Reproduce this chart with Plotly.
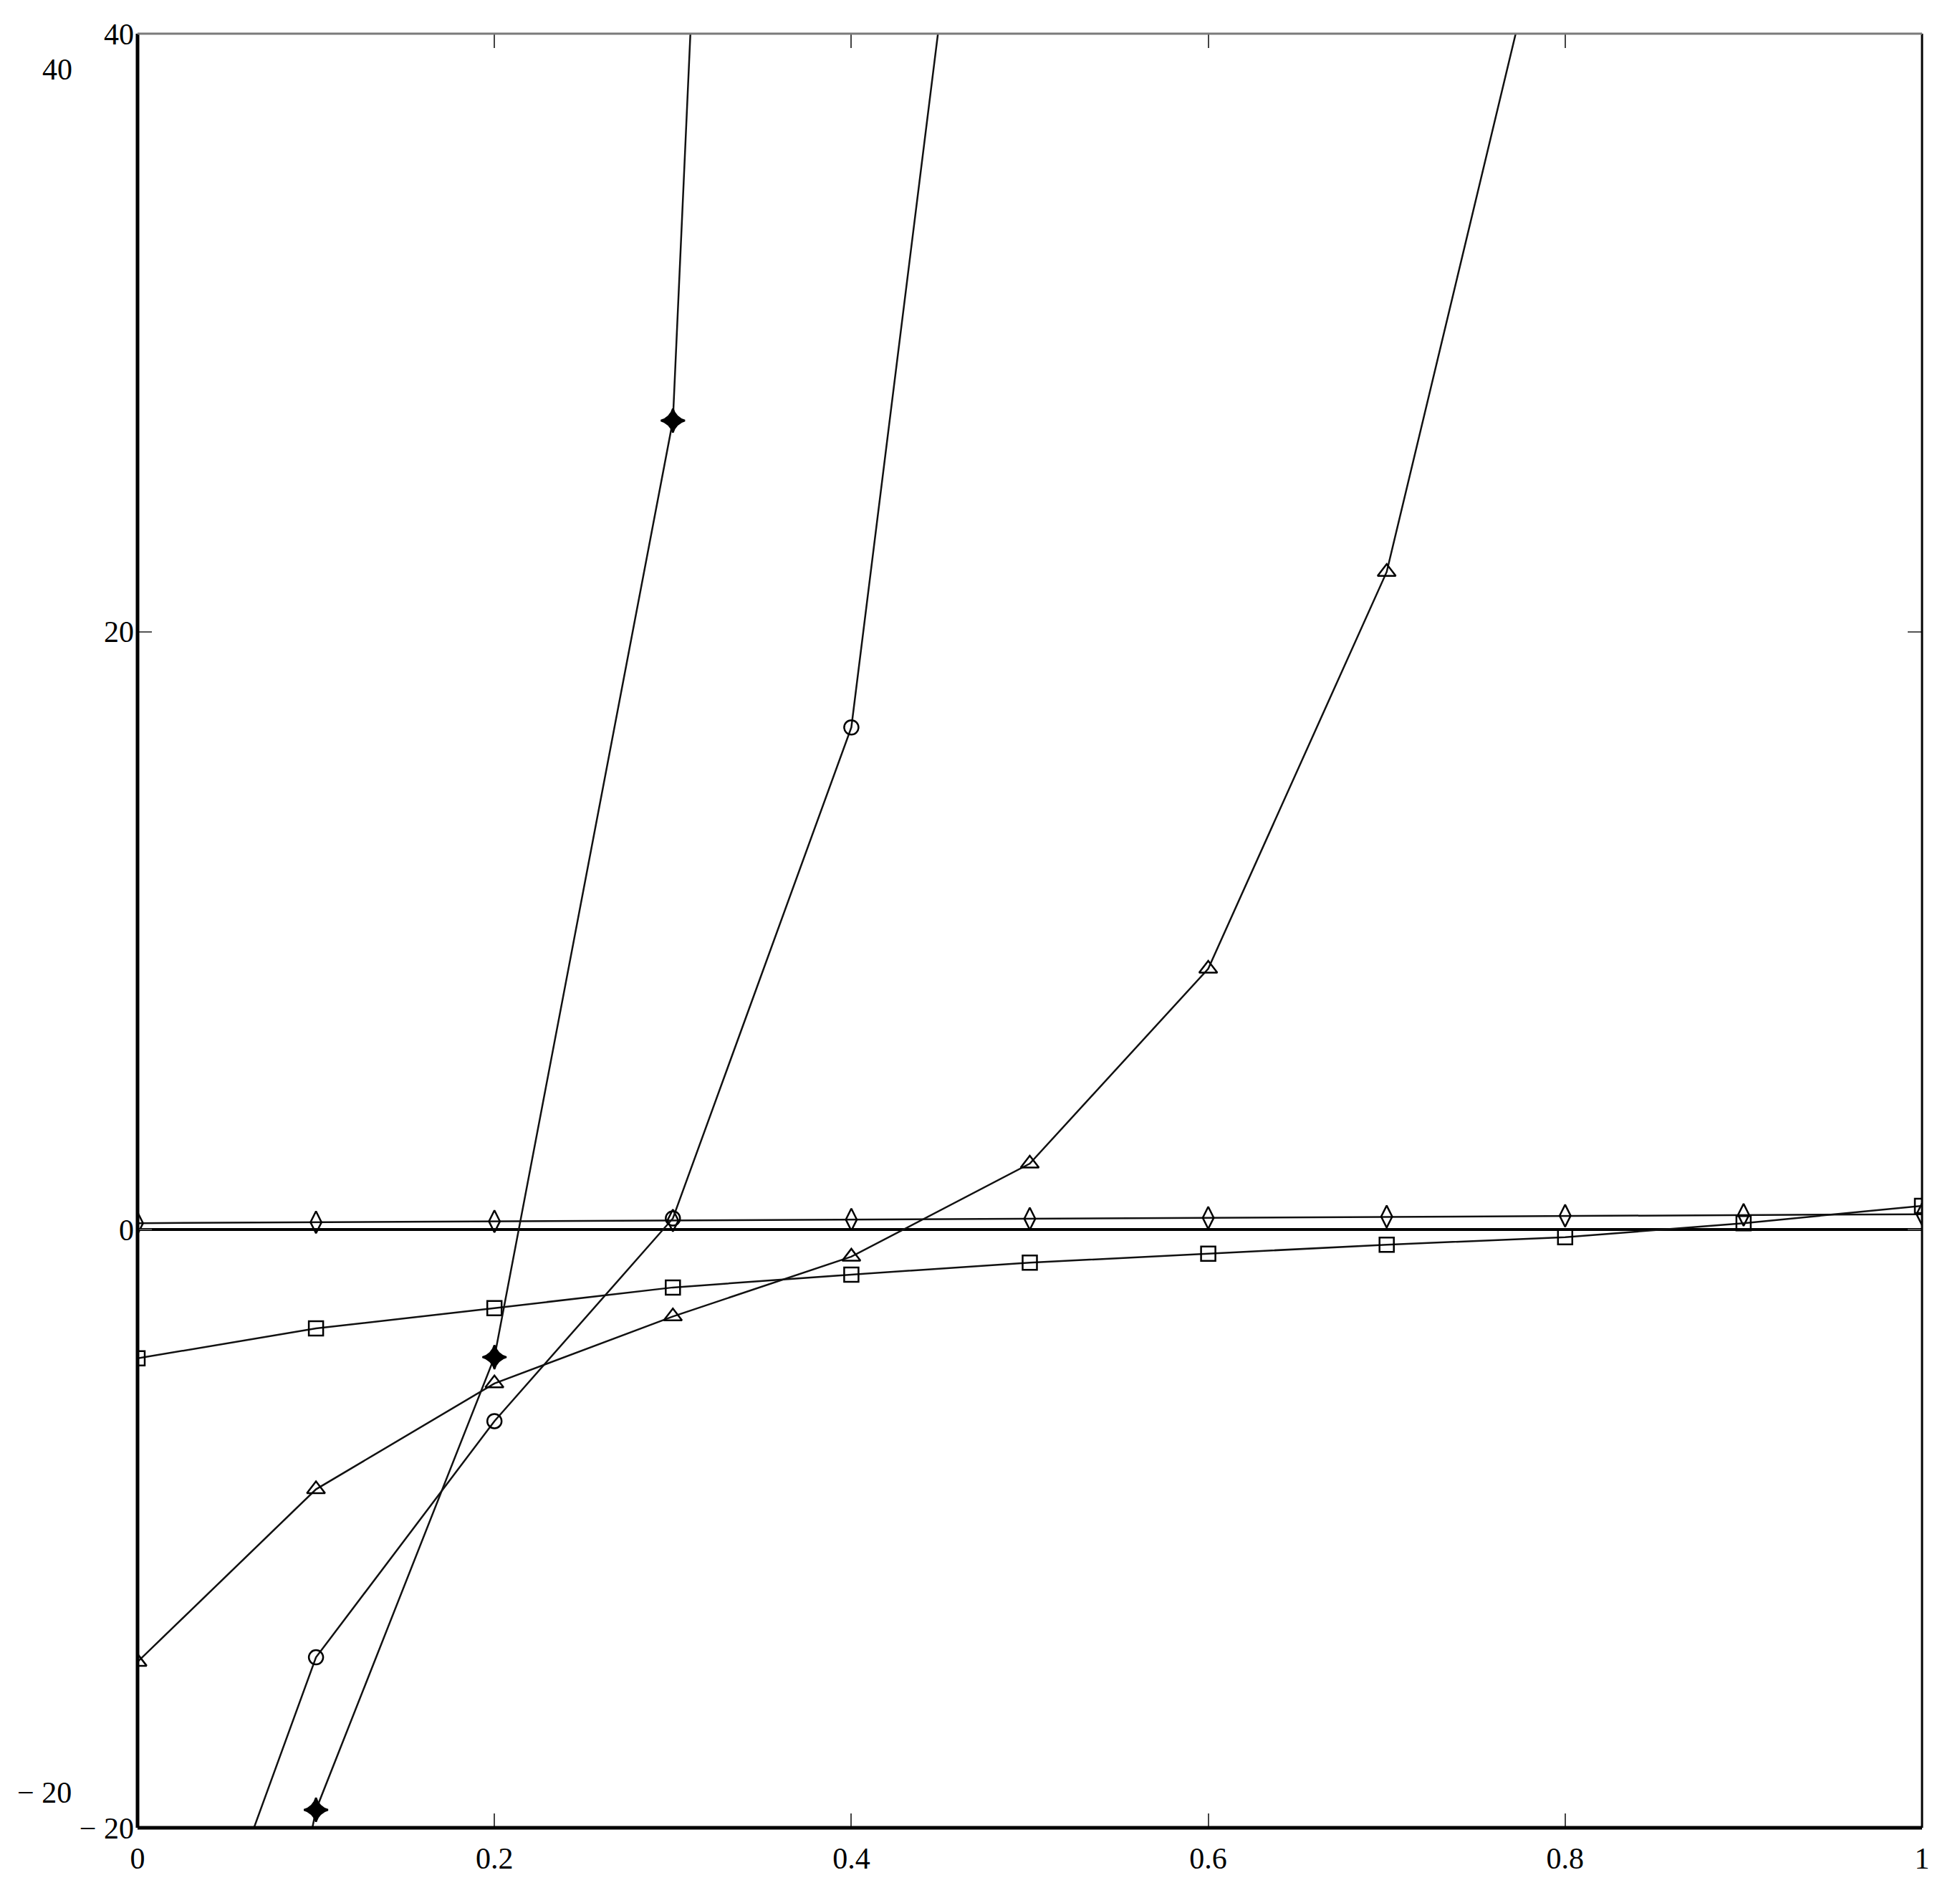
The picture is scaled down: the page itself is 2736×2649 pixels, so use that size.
import plotly.graph_objects as go

# Values, one per marker at x = 0, 0.1, ... 1 ---
x_values = [0.0, 0.1, 0.2, 0.3, 0.4, 0.5, 0.6, 0.7, 0.8, 0.9, 1.0]
filled_values = [-49.0, -19.4, -4.26, 27.06, 159.0, None, None, None, None, None, None]
circle_values = [-30.7, -14.3, -6.4, 0.38, 16.8, 64.6, None, None, None, None, None]
triangle_values = [-14.45, -8.68, -5.14, -2.9, -0.9, 2.21, 8.73, 22.0, 46.9, None, None]
square_values = [-4.3, -3.3, -2.62, -1.93, -1.5, -1.1, -0.8, -0.5, -0.25, 0.22, 0.8]
diamond_values = [0.22, 0.25, 0.28, 0.31, 0.34, 0.37, 0.4, 0.44, 0.47, 0.5, 0.52]

x_tick_values = [0, 0.2, 0.4, 0.6, 0.8, 1]
x_tick_labels = ['0', '0.2', '0.4', '0.6', '0.8', '1']
y_tick_values = [-20, 0, 20, 40]
y_tick_labels = ['\u2212 20', '0', '20', '40']

FONT = 'Liberation Serif, Times New Roman, serif'

series = [
	(diamond_values, 'diamond-tall-open', 22),
	(square_values, 'square-open', 20),
	(triangle_values, 'triangle-up-open', 22),
	(circle_values, 'circle-open', 20),
	(filled_values, 'star-diamond', 24),
]

fig = go.Figure()
for values, symbol, size in series:
	fig.add_trace(go.Scatter(
		x = x_values,
		y = values,
		mode = 'lines+markers',
		line = dict(color = '#111111', width = 2.5),
		marker = dict(
			symbol = symbol,
			size = size,
			color = 'black',
			line = dict(color = 'black', width = 2.5),
		),
		connectgaps = False,
		showlegend = False,
	))

# the page body adds 8 px round the figure, margins account for it ---
fig.update_layout(
	width = 2736,
	height = 2649,
	margin = dict(l = 184, r = 61, t = 39, b = 106),
	paper_bgcolor = 'white',
	plot_bgcolor = 'white',
	font = dict(family = FONT, size = 42, color = 'black'),
)
fig.update_xaxes(
	range = [0, 1],
	tickvals = x_tick_values,
	ticktext = x_tick_labels,
	ticks = 'inside',
	ticklen = 20,
	tickwidth = 2,
	tickcolor = '#444444',
	mirror = 'allticks',
	showline = False,
	showgrid = False,
	zeroline = False,
	ticklabelstandoff = 14,
)
fig.update_yaxes(
	range = [-20, 40],
	tickvals = y_tick_values,
	ticktext = y_tick_labels,
	ticks = 'inside',
	ticklen = 20,
	tickwidth = 2,
	tickcolor = '#555555',
	mirror = 'allticks',
	showline = False,
	showgrid = False,
	zeroline = True,
	zerolinecolor = 'black',
	zerolinewidth = 4,
	ticklabelstandoff = 4,
)

# Frame: heavy left/bottom, lighter top ---
frame = [
	(0, 0, 0, 1, 'black', 5),
	(0, 0, 1, 0, 'black', 5),
	(1, 0, 1, 1, 'black', 3),
	(0, 1, 1, 1, '#7a7a7a', 3),
]
for x0, y0, x1, y1, color, width in frame:
	fig.add_shape(
		type = 'line', xref = 'paper', yref = 'paper',
		x0 = x0, y0 = y0, x1 = x1, y1 = y1,
		line = dict(color = color, width = width),
		layer = 'above',
	)

# The doubled limit labels next to the axis ---
for text, xp, yp in [('40', -0.045, 0.980), ('\u2212 20', -0.052, 0.0196)]:
	fig.add_annotation(
		text = text, xref = 'paper', yref = 'paper',
		x = xp, y = yp, showarrow = False,
		xanchor = 'center', yanchor = 'middle',
		font = dict(family = FONT, size = 42, color = 'black'),
	)

fig.write_html('out.html')
